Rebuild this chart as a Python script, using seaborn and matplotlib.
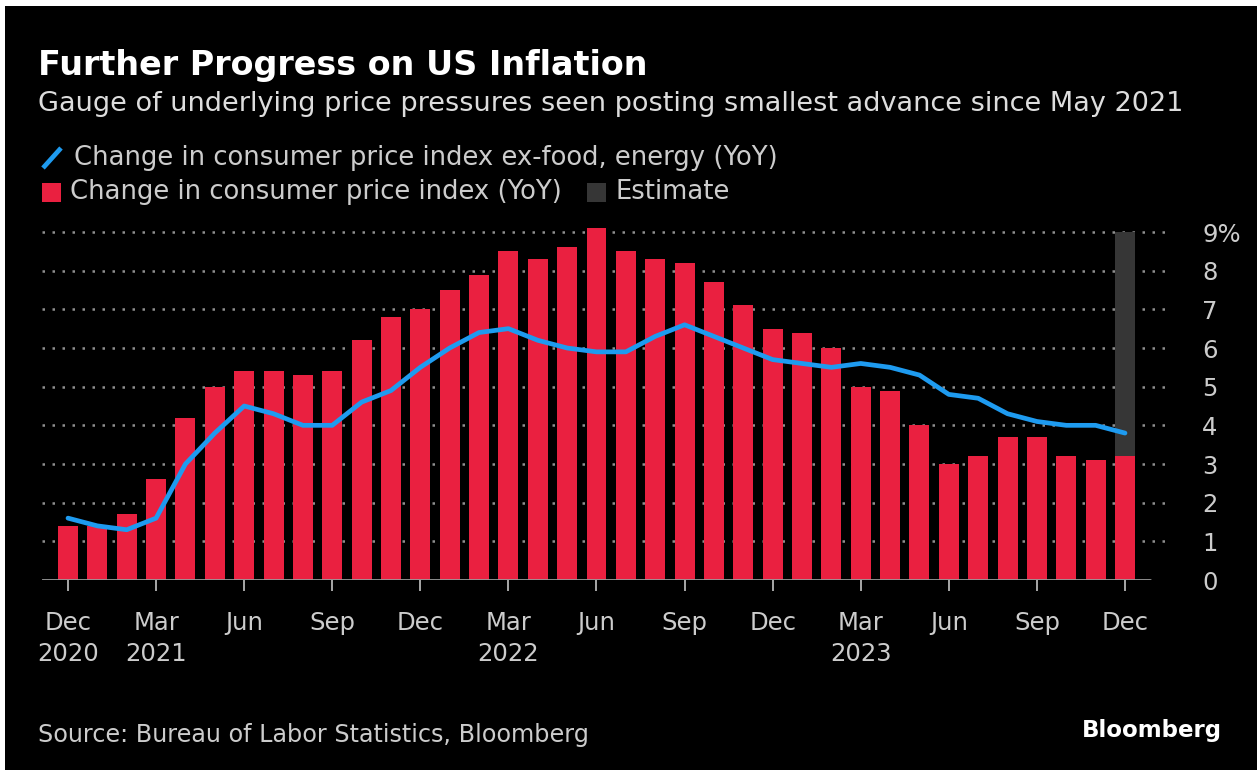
import numpy as np
import pandas as pd
import seaborn as sns
import matplotlib.pyplot as plt
from matplotlib.patches import Rectangle
from matplotlib.lines import Line2D

# Monthly data, Dec 2020 - Dec 2023
months = pd.date_range("2020-12-01", "2023-12-01", freq="MS").strftime("%Y-%m").tolist()

cpi_yoy = [1.4, 1.4, 1.7, 2.6, 4.2, 5.0, 5.4, 5.4, 5.3, 5.4, 6.2, 6.8,
           7.0, 7.5, 7.9, 8.5, 8.3, 8.6, 9.1, 8.5, 8.3, 8.2, 7.7, 7.1,
           6.5, 6.4, 6.0, 5.0, 4.9, 4.0, 3.0, 3.2, 3.7, 3.7, 3.2, 3.1,
           3.2]
core_yoy = [1.6, 1.4, 1.3, 1.6, 3.0, 3.8, 4.5, 4.3, 4.0, 4.0, 4.6, 4.9,
            5.5, 6.0, 6.4, 6.5, 6.2, 6.0, 5.9, 5.9, 6.3, 6.6, 6.3, 6.0,
            5.7, 5.6, 5.5, 5.6, 5.5, 5.3, 4.8, 4.7, 4.3, 4.1, 4.0, 4.0,
            3.8]

estimate_month = ["2023-12"]
estimate_top = [9]

tick_months = months[::3]
tick_labels = ["Dec\n2020", "Mar\n2021", "Jun", "Sep", "Dec", "Mar\n2022", "Jun",
               "Sep", "Dec", "Mar\n2023", "Jun", "Sep", "Dec"]

RED = "#EA2040"
BLUE = "#1E9BF0"
GREY_EST = "#363636"
TXT = "#CCCCCC"

sns.set_style("dark")
plt.rcParams["font.family"] = ["DejaVu Sans"]

fig = plt.figure(figsize=(12.57, 7.7), dpi=100, facecolor="white")
# black card with thin white border on top / left
fig.patches.append(Rectangle((5 / 1257, 0), 1, 1 - 6 / 770, transform=fig.transFigure,
                             facecolor="black", edgecolor="none", zorder=-10))

ax = fig.add_axes([42 / 1257, 190 / 770, (1166 - 42) / 1257, (580 - 220.4) / 770])
ax.set_facecolor("black")

# grid first so bars sit on top
for v in range(1, 10):
    ax.axhline(v, color="#8f8f8f", lw=1.8, ls=(0, (1, 3)), zorder=0)

sns.barplot(x=estimate_month, y=estimate_top, order=months, color=GREY_EST,
            width=0.68, saturation=1, linewidth=0, edgecolor="none", ax=ax, zorder=1)
sns.barplot(x=months, y=cpi_yoy, order=months, color=RED,
            width=0.68, saturation=1, linewidth=0, edgecolor="none", ax=ax, zorder=2)
sns.lineplot(x=np.arange(len(months)), y=core_yoy, color=BLUE, lw=3.4, ax=ax, zorder=3)

px = 29.361
ax.set_xlim(-26 / px, (1166 - 68) / px)
ax.set_ylim(0, 9.3)
ax.axhline(0, xmin=0, xmax=(1150 - 42) / (1166 - 42), color="#9a9a9a", lw=2, zorder=4)

for s in ax.spines.values():
    s.set_visible(False)
ax.grid(False)

ax.set_xticks([months.index(m) for m in tick_months])
ax.set_xticklabels(tick_labels, color=TXT, fontsize=17.5, linespacing=1.4, va="top")
ax.tick_params(axis="x", bottom=True, length=8, width=1.4, color="#a8a8a8", pad=14)

ax.yaxis.tick_right()
ax.set_yticks(range(10))
ax.set_yticklabels([str(v) for v in range(9)] + ["9%"], color=TXT, fontsize=17.5)
ax.tick_params(axis="y", left=False, right=False, length=0, pad=26)
ax.set_xlabel("")
ax.set_ylabel("")

# titles
fig.text(38 / 1257, 1 - 65 / 770, "Further Progress on US Inflation", color="white",
         fontsize=24, fontweight="bold", va="center")
fig.text(38 / 1257, 1 - 104 / 770,
         "Gauge of underlying price pressures seen posting smallest advance since May 2021",
         color="#dddddd", fontsize=19.5, va="center")

# legend built by hand
fig.lines.append(Line2D([43 / 1257, 61 / 1257], [1 - 168 / 770, 1 - 148 / 770],
                        transform=fig.transFigure, color=BLUE, lw=3.4,
                        solid_capstyle="butt"))
fig.text(74 / 1257, 1 - 158 / 770, "Change in consumer price index ex-food, energy (YoY)",
         color=TXT, fontsize=18.6, va="center")
fig.patches.append(Rectangle((42 / 1257, 1 - 202 / 770), 19 / 1257, 19 / 770,
                             transform=fig.transFigure, facecolor=RED, edgecolor="none"))
fig.text(70 / 1257, 1 - 192 / 770, "Change in consumer price index (YoY)",
         color=TXT, fontsize=18.6, va="center")
fig.patches.append(Rectangle((587 / 1257, 1 - 202 / 770), 19 / 1257, 19 / 770,
                             transform=fig.transFigure, facecolor=GREY_EST, edgecolor="none"))
fig.text(616 / 1257, 1 - 192 / 770, "Estimate", color=TXT, fontsize=18.6, va="center")

fig.text(38 / 1257, 1 - 735 / 770, "Source: Bureau of Labor Statistics, Bloomberg",
         color=TXT, fontsize=17.2, va="center")
fig.text(1222 / 1257, 1 - 731 / 770, "Bloomberg", color="white", fontsize=16.5,
         fontweight="bold", ha="right", va="center")

fig.savefig("out.png", dpi=100, facecolor=fig.get_facecolor())
